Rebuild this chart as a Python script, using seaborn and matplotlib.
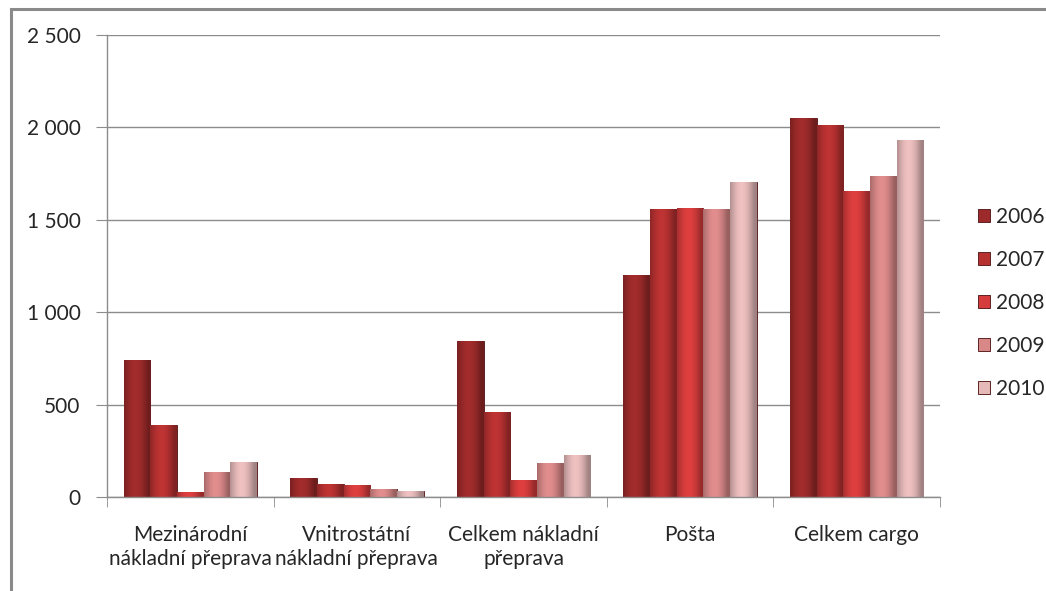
import numpy as np
import pandas as pd
import matplotlib
matplotlib.use("Agg")
import matplotlib.pyplot as plt
import seaborn as sns
from matplotlib.patches import Rectangle
from matplotlib.ticker import FuncFormatter, FixedLocator


# data (values in tonnes, thousands)
categories = ["Mezinárodní\nnákladní přeprava", "Vnitrostátní\nnákladní přeprava",
              "Celkem nákladní\npřeprava", "Pošta", "Celkem cargo"]
years = ["2006", "2007", "2008", "2009", "2010"]
v2006 = [741, 103, 844, 1201, 2051]
v2007 = [390, 70, 460, 1558, 2013]
v2008 = [27, 65, 92, 1565, 1656]
v2009 = [135, 43, 184, 1558, 1737]
v2010 = [190, 32, 227, 1705, 1932]
colors = ["#9c2a2a", "#b73131", "#d63c3c", "#d98888", "#e6b9b9"]

rows = []
for year, vals in zip(years, [v2006, v2007, v2008, v2009, v2010]):
    for cat, v in zip(categories, vals):
        rows.append({"kategorie": cat, "rok": year, "hodnota": v})
df = pd.DataFrame(rows)

sns.set_style("white")
plt.rcParams["font.family"] = ["Lato", "DejaVu Sans"]
FS = 15

fig = plt.figure(figsize=(10.46, 5.91), dpi=100)
ax = fig.add_axes([0.1023, 0.159, 0.7964, 0.7818])

sns.barplot(data=df, x="kategorie", y="hodnota", hue="rok", palette=colors,
            order=categories, hue_order=years, width=0.8, ax=ax,
            edgecolor="#5e2222", linewidth=0.7, saturation=1, legend=True)

# fake the glossy excel look: darker left side, lighter middle
for patch in ax.patches:
    if patch.get_height() <= 0:
        continue
    x0, y0 = patch.get_x(), patch.get_y()
    w, h = patch.get_width(), patch.get_height()
    base = np.array(matplotlib.colors.to_rgb(patch.get_facecolor()))
    xs = np.linspace(0, 1, 64)
    shade = 0.78 + 0.3 * np.sin(np.pi * np.clip(xs * 1.1, 0, 1)) - 0.08 * xs
    grad = np.clip(base[None, :] * shade[:, None], 0, 1)[None, :, :]
    im = ax.imshow(grad, extent=[x0, x0 + w, y0, y0 + h], aspect="auto",
                   zorder=patch.get_zorder() + 0.1, interpolation="bilinear")
    im.set_clip_path(patch)

ax.set_xlim(-0.5, 4.5)
ax.set_ylim(0, 2500)
ax.set_yticks([0, 500, 1000, 1500, 2000, 2500])
ax.yaxis.set_major_formatter(FuncFormatter(lambda v, p: f"{int(v):,}".replace(",", " ")))
ax.grid(axis="y", color="#8c8c8c", linewidth=1)
ax.set_axisbelow(True)
ax.set_xlabel("")
ax.set_ylabel("")

for s in ["top", "right"]:
    ax.spines[s].set_visible(False)
for s in ["left", "bottom"]:
    ax.spines[s].set_color("#8c8c8c")
    ax.spines[s].set_linewidth(1)

ax.tick_params(axis="y", which="major", length=8, color="#8c8c8c", labelsize=FS,
               labelcolor="#262626", left=True, pad=11)
ax.tick_params(axis="x", which="major", length=0, labelsize=FS, labelcolor="#262626", pad=20)
ax.xaxis.set_minor_locator(FixedLocator(np.arange(-0.5, 5, 1)))
ax.tick_params(axis="x", which="minor", length=7, color="#8c8c8c", bottom=True)
for lbl in ax.get_xticklabels():
    lbl.set_linespacing(1.25)

leg = ax.legend(loc="center left", bbox_to_anchor=(1.035, 0.42), frameon=False,
                fontsize=FS, handlelength=0.6, handleheight=0.6,
                labelspacing=1.1, handletextpad=0.3, borderaxespad=0)
for t in leg.get_texts():
    t.set_color("#262626")

# outer chart frame (image is cropped, only top and left edges visible)
fig.patches.append(Rectangle((11 / 1046, -0.05), 1.2, 1 - 9 / 591 + 0.05,
                             transform=fig.transFigure, fill=False,
                             edgecolor="#8a8a8a", linewidth=2.2))

fig.savefig("out.png", dpi=100)
